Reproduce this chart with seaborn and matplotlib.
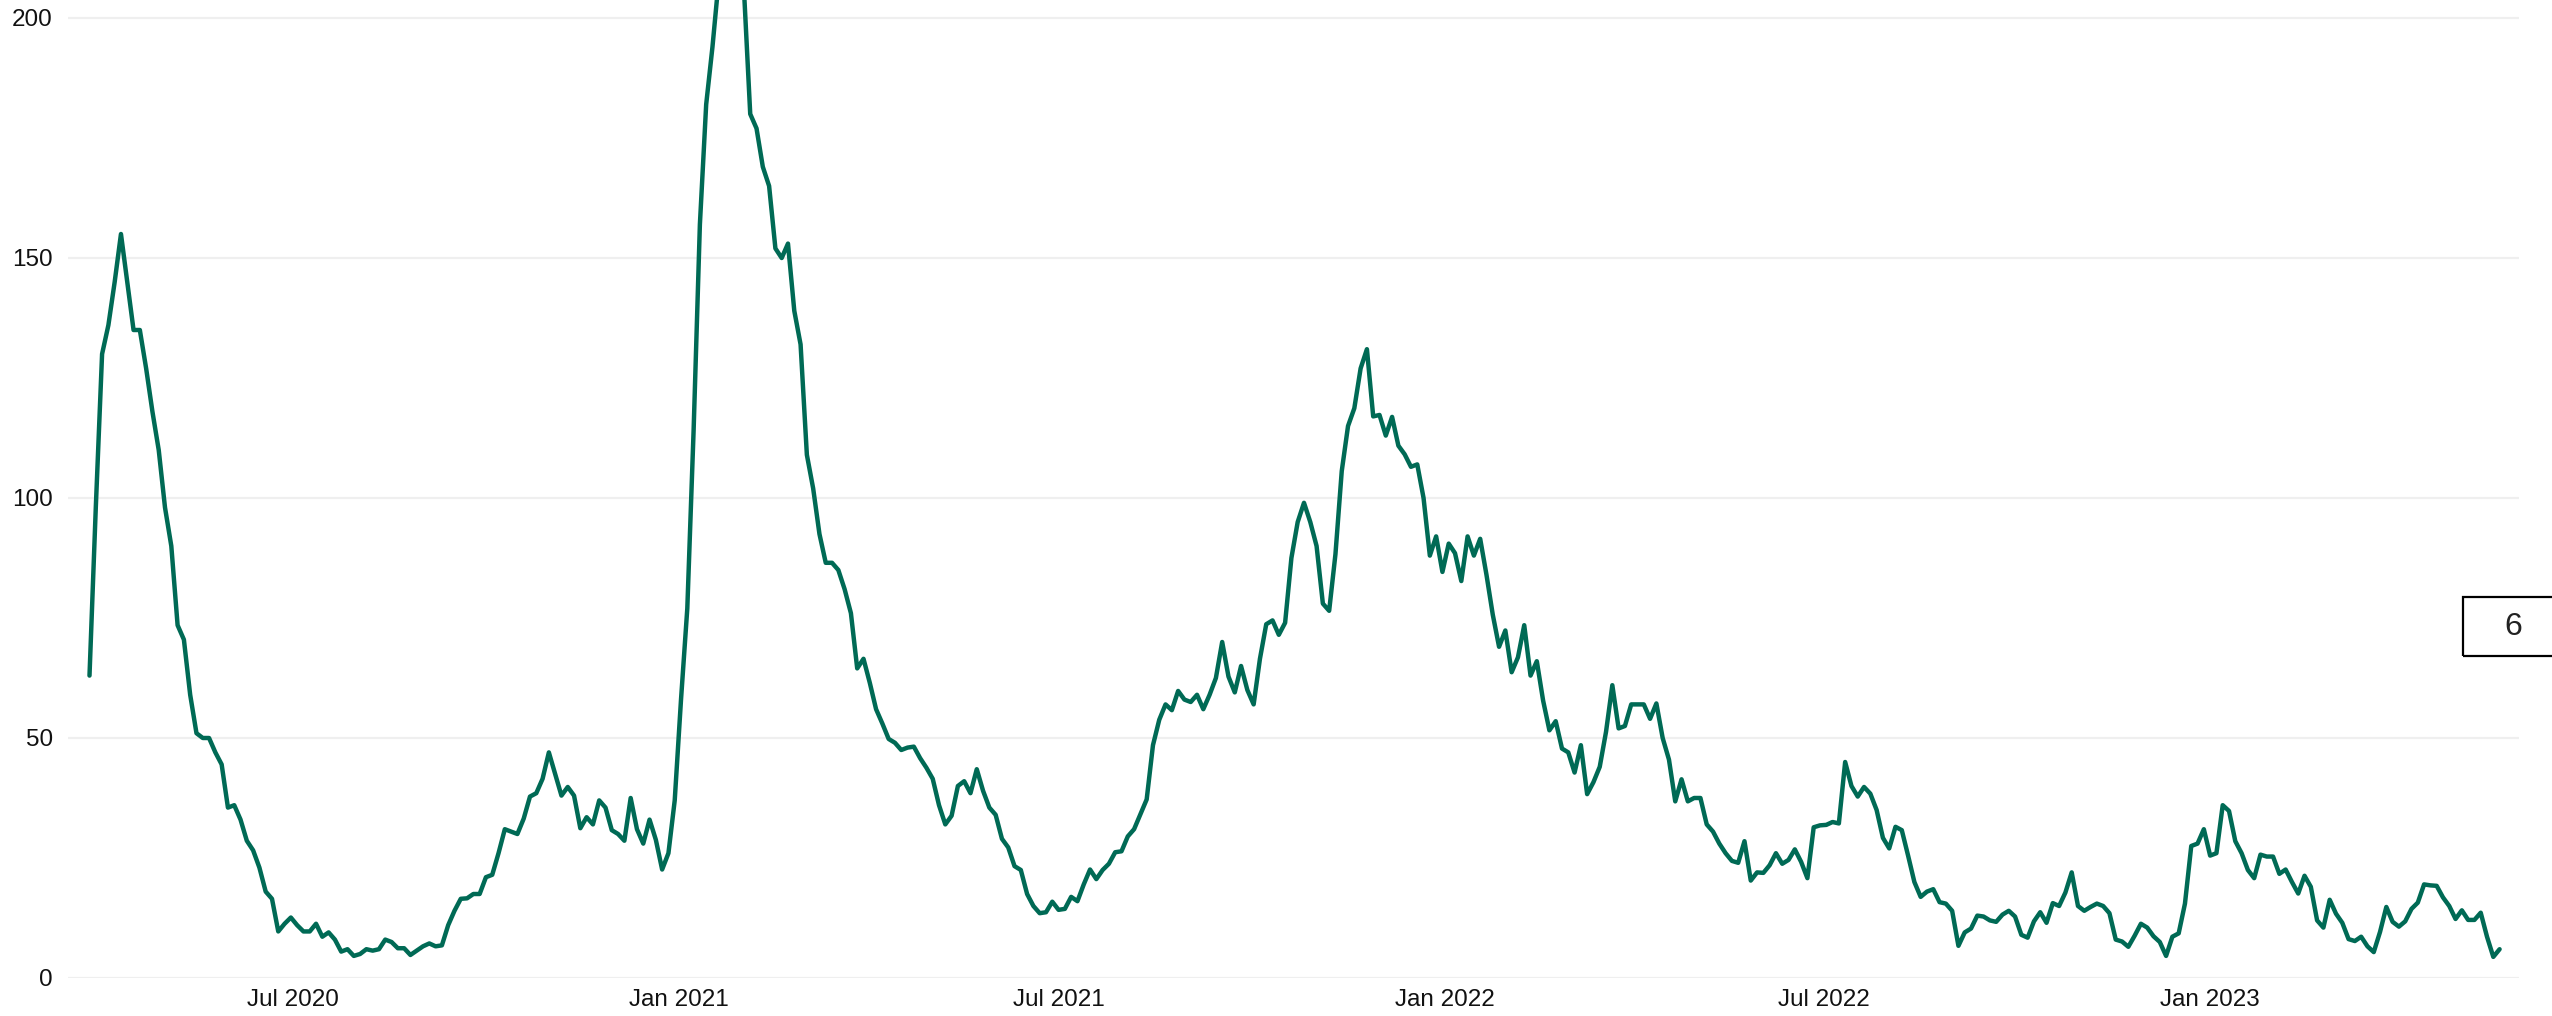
import pandas as pd
import numpy as np
import matplotlib
matplotlib.use("Agg")
import matplotlib.pyplot as plt
import matplotlib.dates as mdates
from matplotlib.patches import Rectangle
import seaborn as sns

# ---- data: values sampled every 3 days starting 2020-03-26 ----
start_date = "2020-03-26"
step = "3D"

vals_2020_spring = [63, 98, 130, 136, 145, 155, 145, 135, 135, 127, 118, 110, 98, 90, 73.5, 70.5,
                    59, 51, 50, 50, 47, 44.5, 35.5, 36, 33, 28.6, 26.6, 23, 18, 16.5, 9.7, 11.3,
                    12.6, 11, 9.7, 9.7, 11.3, 8.6, 9.5, 8, 5.5, 6, 4.6, 5, 6, 5.7, 6, 8]
vals_2020_autumn = [7.5, 6.2, 6.2, 4.8, 5.7, 6.6, 7.2, 6.6, 6.8, 11, 14, 16.5, 16.6, 17.5, 17.5, 21,
                    21.5, 26, 31, 30.5, 30, 33.2, 37.8, 38.5, 41.5, 47, 42.5, 38, 39.8, 38, 31.2, 33.5,
                    32, 37, 35.5, 30.8, 30, 28.6, 37.5, 31, 28, 33, 28.8, 22.6, 26, 37, 58, 77]
vals_2021_winter = [114, 157, 182, 194, 208, 218, 224, 218, 206, 180, 177, 169, 165, 152, 150, 153,
                    139, 132, 109, 102, 92.5, 86.5, 86.5, 85, 81, 76, 64.5, 66.5, 61.5, 56, 53, 49.8,
                    49, 47.5, 48, 48.2, 45.8, 43.8, 41.5, 36, 32, 33.8, 40, 41, 38.5, 43.5, 39, 35.5,
                    34, 29, 27.2]
vals_2021_summer = [23.3, 22.5, 17.5, 15, 13.5, 13.7, 15.9, 14.2, 14.4, 16.9, 16, 19.5, 22.6, 20.6,
                    22.5, 23.8, 26.2, 26.4, 29.5, 31, 34.1, 37.2, 48.5, 53.8, 57, 55.8, 59.8, 58, 57.5,
                    59, 56, 59, 62.5, 70, 62.8, 59.5, 65, 60, 57, 66.5, 73.7, 74.5, 71.5, 74, 87.5,
                    95, 99, 95, 90]
vals_2021_autumn = [78, 76.5, 88.3, 105.6, 115, 118.7, 127, 131, 117, 117.3, 113, 116.9, 110.9, 109.1,
                    106.5, 107, 100, 88, 92, 84.6, 90.5, 88.5, 82.7, 92, 88, 91.5, 84, 75.7, 69, 72.4,
                    63.7, 66.8, 73.5, 63, 66, 57.8, 51.6, 53.5, 47.8, 47, 42.8, 48.5, 38.3, 40.8, 44,
                    51.3, 61, 52, 52.5]
vals_2022_spring = [57, 57, 57, 54, 57.2, 50, 45.5, 36.8, 41.4, 36.8, 37.5, 37.5, 32, 30.5, 28, 26,
                    24.4, 24, 28.5, 20.3, 22, 21.9, 23.5, 26, 23.8, 24.6, 26.8, 24.2, 20.8, 31.4, 31.8,
                    31.9, 32.5, 32.2, 45, 40, 37.8, 39.8, 38.4, 35, 29.2, 27, 31.5, 30.8, 25.5, 20,
                    16.9, 18, 18.5]
vals_2022_autumn = [15.8, 15.5, 14, 6.7, 9.5, 10.3, 13, 12.8, 12, 11.7, 13.2, 14, 12.8, 9, 8.4, 11.8,
                    13.7, 11.5, 15.6, 15, 17.8, 22, 15, 14, 14.8, 15.5, 15, 13.5, 8, 7.6, 6.5, 8.8,
                    11.3, 10.5, 8.7, 7.5, 4.6, 8.6, 9.3, 15.5, 27.5, 28, 31, 25.5, 26, 36, 34.8, 28.5,
                    26, 22.5]
vals_2023 = [20.8, 25.7, 25.3, 25.3, 21.7, 22.6, 20, 17.6, 21.3, 19, 12, 10.5, 16.3, 13.4, 11.5, 8.1,
             7.7, 8.6, 6.6, 5.4, 9.6, 14.8, 11.7, 10.7, 11.8, 14.4, 15.7, 19.5, 19.3, 19.2, 16.8, 15,
             12.3, 14.1, 12.1, 12.1, 13.6, 8.6, 4.4, 6]

y_ticks = [0, 50, 100, 150, 200]
last_label = "6"

values = (vals_2020_spring + vals_2020_autumn + vals_2021_winter + vals_2021_summer +
          vals_2021_autumn + vals_2022_spring + vals_2022_autumn + vals_2023)
dates = pd.date_range(start_date, periods=len(values), freq=step)
df = pd.DataFrame({"date": dates, "value": values})

# ---- figure ----
sns.set_theme(style="white")
plt.rcParams["font.family"] = ["Liberation Sans", "DejaVu Sans"]

W, H = 2552, 1016
fig = plt.figure(figsize=(W / 100, H / 100), dpi=100)
ax = fig.add_axes([68 / W, 1 - 978 / H, (2519 - 68) / W, 978 / H])

sns.lineplot(data=df, x="date", y="value", ax=ax, color="#006a55", linewidth=3.2)

ax.set_ylim(0, 203.75)
ax.set_xlim(pd.Timestamp("2020-03-15 18:00"), pd.Timestamp("2023-05-28 06:00"))
ax.set_yticks(y_ticks)
ax.xaxis.set_major_locator(mdates.MonthLocator(bymonth=[1, 7]))
ax.xaxis.set_major_formatter(mdates.DateFormatter("%b %Y"))

ax.yaxis.grid(True, color="#efefef", linewidth=1.6)
ax.xaxis.grid(False)
ax.set_axisbelow(True)
for s in ax.spines.values():
    s.set_visible(False)
ax.tick_params(axis="both", length=0, labelsize=17.5, labelcolor="#111111")
ax.tick_params(axis="y", pad=11)
ax.tick_params(axis="x", pad=8)
ax.set_xlabel("")
ax.set_ylabel("")

# value box at right edge
fig.add_artist(Rectangle((2463 / W, 1 - 656 / H), 100 / W, 59 / H, transform=fig.transFigure,
                         fill=False, edgecolor="black", linewidth=1.6, clip_on=False))
fig.text(2513 / W, 1 - 627 / H, last_label, ha="center", va="center", fontsize=23, color="#222222")

fig.savefig("out.png", dpi=100)
